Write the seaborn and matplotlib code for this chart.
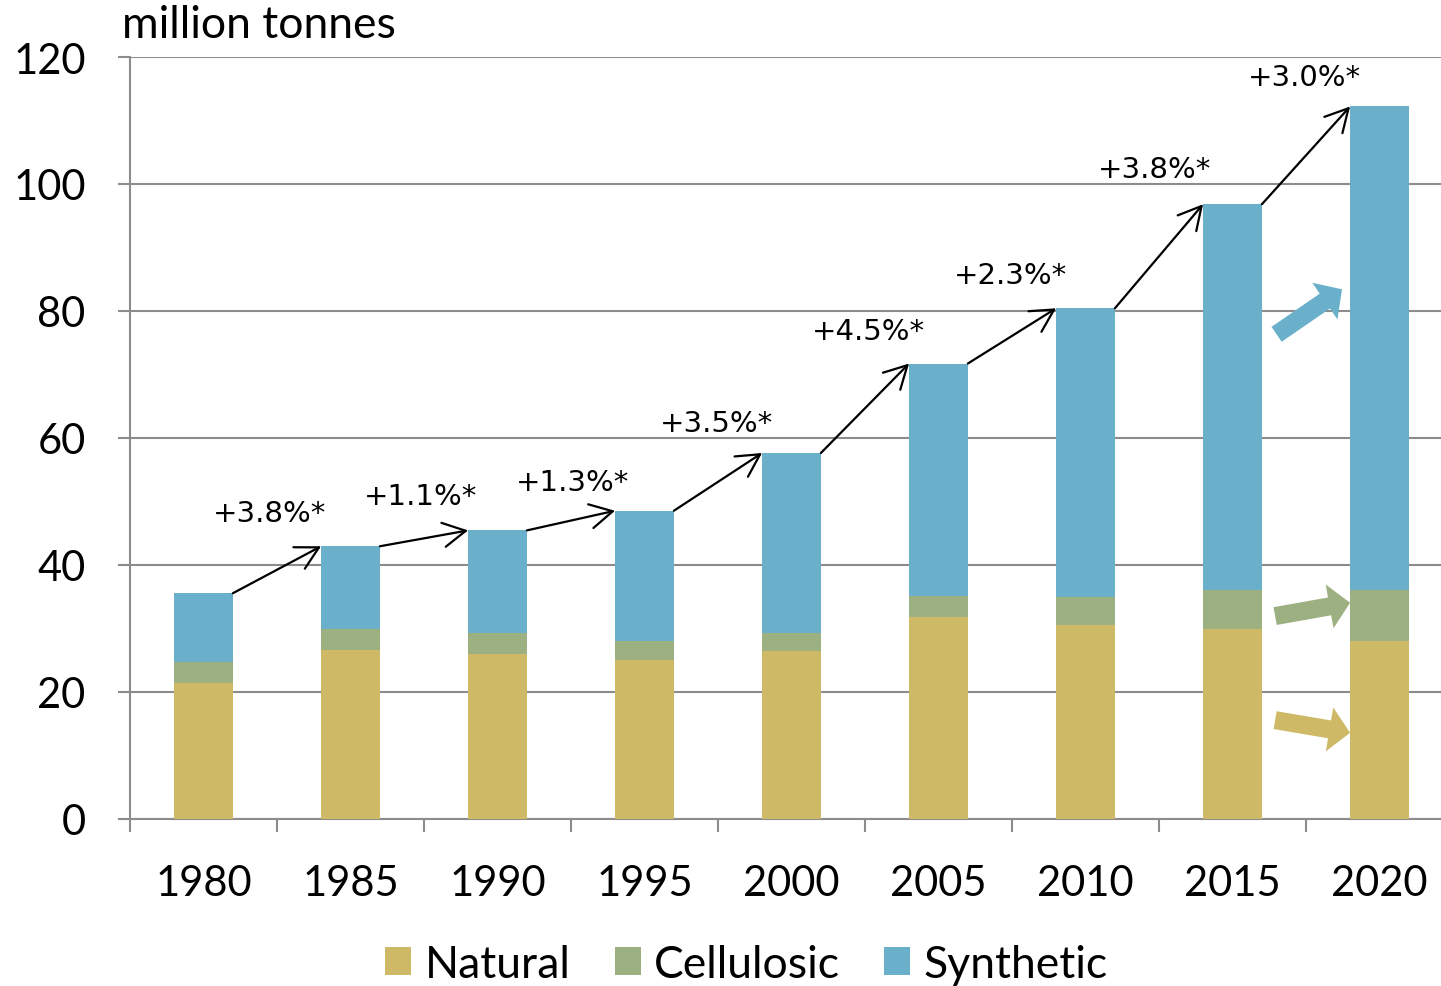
import numpy as np
import pandas as pd
import matplotlib
matplotlib.use('Agg')
import matplotlib.pyplot as plt
import seaborn as sns
from matplotlib.patches import Patch

# values (million tonnes)
years = ['1980', '1985', '1990', '1995', '2000', '2005', '2010', '2015', '2020']
natural = [21.3, 26.6, 26.0, 25.0, 26.4, 31.7, 30.5, 29.8, 27.9]
cellulosic = [3.4, 3.3, 3.2, 2.9, 2.8, 3.4, 4.4, 6.2, 8.1]
synthetic = [10.8, 13.0, 16.2, 20.6, 28.4, 36.6, 45.5, 60.8, 76.2]
growth_labels = ['+3.8%*', '+1.1%*', '+1.3%*', '+3.5%*', '+4.5%*',
                 '+2.3%*', '+3.8%*', '+3.0%*']
series_names = ['Natural', 'Cellulosic', 'Synthetic']

colors = {'Natural': '#CEB966', 'Cellulosic': '#9DB082', 'Synthetic': '#6BB0CA'}
grid_color = '#8C8C8C'

# label offsets above the connecting arrows (layout only)
label_dy = [8.9, 6.6, 6.0, 9.3, 12.2, 9.6, 13.7, 12.3]
label_dx = [-0.05, -0.02, 0.01, -0.01, 0.02, -0.01, -0.03, -0.01]

df = pd.DataFrame({'year': years, 'Natural': natural,
                   'Cellulosic': cellulosic, 'Synthetic': synthetic})
df['cell_top'] = df['Natural'] + df['Cellulosic']
df['total'] = df['cell_top'] + df['Synthetic']

sns.set_style('white')
plt.rcParams['font.family'] = ['Lato', 'DejaVu Sans']
plt.rcParams['text.color'] = 'black'
plt.rcParams['xtick.labelcolor'] = 'black'
plt.rcParams['ytick.labelcolor'] = 'black'

fig = plt.figure(figsize=(14.41, 9.87), dpi=100)
ax = fig.add_axes([130 / 1441, 1 - 819.5 / 987, 1323 / 1441, (819.5 - 58) / 987])

bar_w = 0.4
# stacked bars drawn as overlapping cumulative layers
sns.barplot(data=df, x='year', y='total', color=colors['Synthetic'], width=bar_w,
            saturation=1, ax=ax, linewidth=0, zorder=3)
sns.barplot(data=df, x='year', y='cell_top', color=colors['Cellulosic'], width=bar_w,
            saturation=1, ax=ax, linewidth=0, zorder=3)
sns.barplot(data=df, x='year', y='Natural', color=colors['Natural'], width=bar_w,
            saturation=1, ax=ax, linewidth=0, zorder=3)

ax.set_ylim(0, 120)
ax.set_xlim(-0.5, len(years) - 0.5)
ax.set_yticks(range(0, 121, 20))
ax.set_xlabel('')
ax.set_ylabel('')

ax.yaxis.grid(True, color=grid_color, linewidth=1.5, zorder=0)
ax.set_axisbelow(True)
for side in ['top', 'right']:
    ax.spines[side].set_visible(False)
for side in ['left', 'bottom']:
    ax.spines[side].set_color(grid_color)
    ax.spines[side].set_linewidth(1.5)

ax.tick_params(axis='y', length=9, width=1.5, color=grid_color, pad=23,
               labelsize=30, labelcolor='black', direction='out', left=True)
ax.tick_params(axis='x', which='major', length=0, pad=33, labelsize=30,
               labelcolor='black')
ax.set_xticks(np.arange(-0.5, len(years), 1.0), minor=True)
ax.tick_params(axis='x', which='minor', length=9, width=1.5, color=grid_color,
               direction='out', bottom=True)

# growth arrows between bar tops
totals = df['total'].values
for i in range(len(years) - 1):
    ax.annotate('', xy=(i + 1 - bar_w / 2, totals[i + 1]),
                xytext=(i + bar_w / 2, totals[i]),
                arrowprops=dict(arrowstyle='->,head_length=0.65,head_width=0.35',
                                color='black', lw=1.6, shrinkA=0, shrinkB=0,
                                mutation_scale=25),
                zorder=4)
    mid = (totals[i] + totals[i + 1]) / 2
    ax.text(i + 0.5 + label_dx[i], mid + label_dy[i], growth_labels[i],
            ha='center', va='center', fontsize=21, family='DejaVu Sans',
            color='black')

# fat trend arrows beside the 2020 bar
fat_style = 'simple,head_length=1.5,head_width=3.2,tail_width=1.3'
fat_arrows = [
    ('Synthetic', (7.30, 76.3), (7.745, 83.4)),
    ('Cellulosic', (7.29, 31.9), (7.80, 34.0)),
    ('Natural', (7.29, 15.5), (7.80, 13.5)),
]
for name, start, end in fat_arrows:
    ax.annotate('', xy=end, xytext=start,
                arrowprops=dict(arrowstyle=fat_style, color=colors[name],
                                lw=0, shrinkA=0, shrinkB=0, mutation_scale=10),
                zorder=4)

fig.text(122 / 1441, 1 - 25 / 987, 'million tonnes', fontsize=32,
         ha='left', va='center', color='black')

handles = [Patch(facecolor=colors[n], edgecolor='none') for n in series_names]
fig.legend(handles, series_names, loc='center', bbox_to_anchor=(0.518, 0.022),
           ncol=3, frameon=False, fontsize=32, handlelength=0.58,
           handleheight=0.58, handletextpad=0.3, columnspacing=1.0,
           labelcolor='black')

fig.savefig('out.png', dpi=100)
